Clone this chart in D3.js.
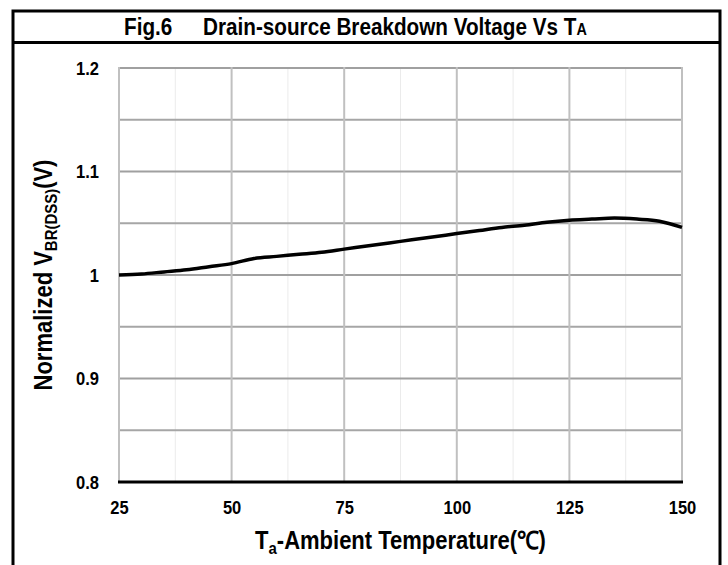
<!DOCTYPE html>
<html>
<head>
<meta charset="utf-8">
<script src="https://cdn.jsdelivr.net/npm/d3@7"></script>
<style>
body { margin: 0; background: #fff; }
svg text { font-family: "Liberation Sans", Arial, sans-serif; font-weight: bold; fill: #000; }
</style>
</head>
<body>
<script>
// temperature (C) and normalized BVdss
let temps = [25, 30, 35, 40, 45, 50, 55, 60, 65, 70, 75, 80, 85, 90, 95, 100, 105, 110, 115, 120, 125, 130, 135, 140, 145, 150]
let vbr = [1.000, 1.001, 1.003, 1.005, 1.008, 1.011, 1.016, 1.018, 1.020, 1.022, 1.025, 1.028, 1.031, 1.034, 1.037, 1.040, 1.043, 1.046, 1.048, 1.051, 1.053, 1.054, 1.055, 1.054, 1.052, 1.046]
let xTicks = [25, 50, 75, 100, 125, 150]
let xMinor = [37.5, 62.5, 87.5, 112.5, 137.5]
let yTicks = [0.8, 0.9, 1.0, 1.1, 1.2]
let yMid = [0.85, 0.95, 1.05, 1.15]

let W = 728, H = 565
let pL = 119, pR = 682, pT = 68, pB = 482
let narrow = 0.87 // fake a condensed face

let svg = d3.select('body').append('svg')
	.attr('width', W)
	.attr('height', H)

let x = d3.scaleLinear().domain([25, 150]).range([pL, pR])
let y = d3.scaleLinear().domain([0.8, 1.2]).range([pB, pT])

// frame + title bar
svg.append('path')
	.attr('d', `M13,${H} V11 H720 V${H}`)
	.attr('fill', 'none').attr('stroke', '#000').attr('stroke-width', 3)
svg.append('line')
	.attr('x1', 13).attr('x2', 720).attr('y1', 42.5).attr('y2', 42.5)
	.attr('stroke', '#000').attr('stroke-width', 3)

svg.append('g').attr('transform', `translate(124,35) scale(0.9,1)`)
	.append('text').style('font-size', '23px').text('Fig.6')
let title = svg.append('g').attr('transform', `translate(203,35) scale(0.9,1)`)
	.append('text').style('font-size', '23px')
title.append('tspan').text('Drain-source Breakdown Voltage Vs T')
title.append('tspan').style('font-size', '16px').text('A')

// grid
let g = svg.append('g')
g.selectAll('.minor').data(xMinor).join('line')
	.attr('x1', d => x(d)).attr('x2', d => x(d))
	.attr('y1', pT).attr('y2', pB)
	.attr('stroke', '#ebebeb').attr('stroke-width', 1)
g.selectAll('.hmid').data(yMid).join('line')
	.attr('x1', pL).attr('x2', pR)
	.attr('y1', d => y(d)).attr('y2', d => y(d))
	.attr('stroke', '#a6a6a6').attr('stroke-width', 2)
g.selectAll('.hmaj').data(yTicks.filter(d => d > 0.8)).join('line')
	.attr('x1', pL).attr('x2', pR)
	.attr('y1', d => y(d)).attr('y2', d => y(d))
	.attr('stroke', '#a0a0a0').attr('stroke-width', 2)
g.selectAll('.vmaj').data(xTicks).join('line')
	.attr('x1', d => x(d)).attr('x2', d => x(d))
	.attr('y1', pT - 1).attr('y2', pB)
	.attr('stroke', '#c0c0c0').attr('stroke-width', 2)

// x axis line
svg.append('line')
	.attr('x1', pL - 1).attr('x2', pR + 1)
	.attr('y1', pB).attr('y2', pB)
	.attr('stroke', '#000').attr('stroke-width', 3)

// tick labels
let xAxis = svg.append('g')
	.attr('transform', `translate(0,${pB})`)
	.call(d3.axisBottom(x).tickValues(xTicks).tickSize(0).tickPadding(19).tickFormat(d3.format('d')))
xAxis.select('.domain').remove()
xAxis.selectAll('text').style('font-size', '19px').attr('transform', `scale(${narrow},1)`)

let yAxis = svg.append('g')
	.attr('transform', `translate(${pL},0)`)
	.call(d3.axisLeft(y).tickValues(yTicks).tickSize(0).tickPadding(20 / narrow).tickFormat(d => d3.format('')(+d.toFixed(1))))
yAxis.select('.domain').remove()
yAxis.selectAll('text').style('font-size', '19px').attr('transform', `scale(${narrow},1)`)

// curve
svg.append('path')
	.datum(temps.map((t, i) => [t, vbr[i]]))
	.attr('fill', 'none')
	.attr('stroke', '#000')
	.attr('stroke-width', 3.5)
	.attr('stroke-linejoin', 'round')
	.attr('d', d3.line().x(d => x(d[0])).y(d => y(d[1])).curve(d3.curveMonotoneX))

// axis titles
let xt = svg.append('g').attr('transform', `translate(${(pL + pR) / 2},549) scale(0.88,1)`)
	.append('text')
	.attr('text-anchor', 'middle')
	.style('font-size', '25px')
xt.append('tspan').text('T')
xt.append('tspan').style('font-size', '17px').attr('dy', 5).text('a')
xt.append('tspan').attr('dy', -5).text('-Ambient Temperature(℃)')

let yt = svg.append('g').attr('transform', `translate(52,${(pT + pB) / 2}) rotate(-90) scale(0.88,1)`)
	.append('text')
	.attr('text-anchor', 'middle')
	.style('font-size', '25px')
yt.append('tspan').text('Normalized V')
yt.append('tspan').style('font-size', '17px').attr('dy', 5).text('BR(DSS)')
yt.append('tspan').attr('dy', -5).text('(V)')
</script>
</body>
</html>
